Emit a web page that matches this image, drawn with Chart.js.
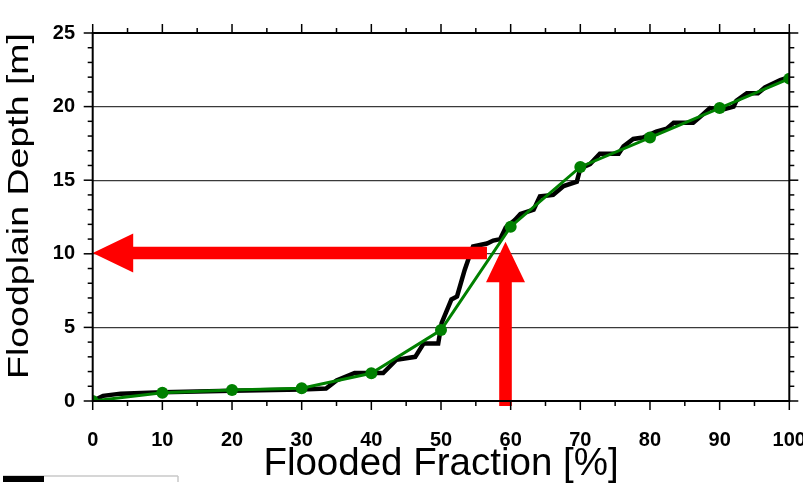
<!DOCTYPE html>
<html>
<head>
<meta charset="utf-8">
<script src="https://cdn.jsdelivr.net/npm/chart.js@4.4.1/dist/chart.umd.min.js"></script>
<style>
  html, body { margin: 0; padding: 0; background: #fff; }
</style>
</head>
<body>
<canvas id="myChart" width="803" height="495"></canvas>
<script>
// Fitted curve (green), sampled every 10 %
var fitFraction = [0, 10, 20, 30, 40, 50, 60, 70, 80, 90, 100];
var fitDepth    = [0, 0.56, 0.75, 0.86, 1.88, 4.82, 11.84, 15.9, 17.9, 19.9, 21.9];

// Raw hypsometric curve (black, stepped)
var rawFraction = [0, 1.5, 4, 10, 20, 30, 33.5, 35, 37.6, 41.7, 43.6, 46.3, 47.5, 49.6, 50.1, 51.5, 52.3, 53.4,
                   54.2, 54.6, 56.6, 57.5, 58.5, 59.3, 60.6, 61.4, 63.3, 64.2, 66.1, 67.6, 69.5, 70, 71.4, 72.8,
                   75.5, 76.2, 77.6, 79, 80.9, 82.4, 83.4, 86.2, 87.2, 88.6, 90.5, 92, 92.4, 93.9, 95.5, 96.5, 98.7, 100];
var rawDepth    = [0, 0.35, 0.5, 0.6, 0.7, 0.78, 0.85, 1.4, 1.9, 1.9, 2.8, 3.0, 3.9, 3.9, 5.3, 6.9, 7.1, 8.9,
                   10.0, 10.5, 10.7, 10.9, 11.0, 11.8, 12.3, 12.7, 13.0, 13.9, 14.0, 14.6, 14.9, 15.8, 16.1, 16.8,
                   16.8, 17.3, 17.8, 17.9, 18.3, 18.5, 18.9, 18.9, 19.3, 19.9, 19.8, 20.0, 20.4, 20.9, 20.9, 21.3, 21.8, 22.0];

// Tick values
var xTicks = [0, 10, 20, 30, 40, 50, 60, 70, 80, 90, 100];
var yTicks = [0, 5, 10, 15, 20, 25];
var xMinor = 5;
var yMinor = 1;

// Red guide arrows [fraction, depth]: tail -> tip
var hArrowFrom = [56.6, 10.05];
var hArrowTo   = [0, 10.05];
var vArrowFrom = [59.26, -0.34];
var vArrowTo   = [59.26, 10.82];

function toPoints(xs, ys) {
    var pts = [];
    for (var i = 0; i < xs.length; i++) pts.push({ x: xs[i], y: ys[i] });
    return pts;
}

function drawArrow(chart, from, to) {
    var ctx = chart.ctx, sx = chart.scales.x, sy = chart.scales.y;
    var x0 = sx.getPixelForValue(from[0]), y0 = sy.getPixelForValue(from[1]);
    var x1 = sx.getPixelForValue(to[0]),   y1 = sy.getPixelForValue(to[1]);
    var len = Math.hypot(x1 - x0, y1 - y0);
    var ux = (x1 - x0) / len, uy = (y1 - y0) / len;
    var px = -uy, py = ux;
    var half = 6.3, headLen = 40.5, headHalf = 19.5;
    var bx = x1 - ux * headLen, by = y1 - uy * headLen;
    ctx.save();
    ctx.fillStyle = '#ff0000';
    ctx.beginPath();
    ctx.moveTo(x0 + px * half, y0 + py * half);
    ctx.lineTo(bx + px * half, by + py * half);
    ctx.lineTo(bx + px * headHalf, by + py * headHalf);
    ctx.lineTo(x1, y1);
    ctx.lineTo(bx - px * headHalf, by - py * headHalf);
    ctx.lineTo(bx - px * half, by - py * half);
    ctx.lineTo(x0 - px * half, y0 - py * half);
    ctx.closePath();
    ctx.fill();
    ctx.restore();
}

function seg(ctx, a, b, c, d) {
    ctx.beginPath(); ctx.moveTo(a, b); ctx.lineTo(c, d); ctx.stroke();
}

var framePlugin = {
    id: 'frame',
    // arrows go between the black and the green curve
    afterDatasetDraw: function(chart, args) {
        if (args.index !== 1) return;
        drawArrow(chart, hArrowFrom, hArrowTo);
        drawArrow(chart, vArrowFrom, vArrowTo);
    },
    afterDraw: function(chart) {
        var ctx = chart.ctx, a = chart.chartArea;
        var sx = chart.scales.x, sy = chart.scales.y;
        var v, p, len;
        ctx.save();
        ctx.strokeStyle = '#000';
        ctx.lineWidth = 1.5;
        // ticks on all four sides, major + minor
        for (v = sx.min; v <= sx.max; v += xMinor) {
            p = sx.getPixelForValue(v);
            len = xTicks.indexOf(v) >= 0 ? 9 : 5;
            seg(ctx, p, a.bottom, p, a.bottom + len);
            seg(ctx, p, a.top, p, a.top - len);
        }
        for (v = sy.min; v <= sy.max; v += yMinor) {
            p = sy.getPixelForValue(v);
            len = yTicks.indexOf(v) >= 0 ? 9 : 5;
            seg(ctx, a.left - len, p, a.left, p);
            seg(ctx, a.right, p, a.right + len, p);
        }
        ctx.lineWidth = 2;
        ctx.strokeRect(a.left, a.top, a.right - a.left, a.bottom - a.top);

        // y axis title, a bit condensed like the original
        ctx.fillStyle = '#000';
        ctx.font = '37.5px "Liberation Sans", Arial, sans-serif';
        ctx.textAlign = 'center';
        ctx.textBaseline = 'alphabetic';
        ctx.translate(28, (a.top + a.bottom) / 2 - 11);
        ctx.rotate(-Math.PI / 2);
        ctx.scale(1, 0.8);
        ctx.fillText('Floodplain Depth [m]', 0, 0);
        ctx.restore();

        // leftover strip of the neighbouring panel at the bottom left
        ctx.save();
        ctx.strokeStyle = '#c8c8c8';
        ctx.lineWidth = 1.5;
        seg(ctx, 3, 476, 178, 476);
        seg(ctx, 178, 476, 178, 482);
        ctx.fillStyle = '#000';
        ctx.fillRect(3, 476, 41, 6);
        ctx.restore();
    }
};

var ctx = document.getElementById('myChart').getContext('2d');
var myChart = new Chart(ctx, {
    type: 'line',
    data: {
        datasets: [{
            label: 'Fit',
            data: toPoints(fitFraction, fitDepth),
            borderColor: '#008000',
            backgroundColor: '#008000',
            borderWidth: 3,
            pointRadius: 6,
            pointBorderWidth: 0,
            tension: 0,
            clip: 0
        }, {
            label: 'Raw',
            data: toPoints(rawFraction, rawDepth),
            borderColor: '#000000',
            borderWidth: 4.5,
            pointRadius: 0,
            tension: 0,
            clip: 0
        }]
    },
    options: {
        responsive: false,
        animation: false,
        events: [],
        layout: {
            autoPadding: false,
            padding: { top: 33, right: 13.7, bottom: 0, left: 0 }
        },
        plugins: {
            legend: { display: false },
            tooltip: { enabled: false }
        },
        scales: {
            x: {
                type: 'linear',
                min: 0,
                max: 100,
                afterBuildTicks: function(s) { s.ticks = xTicks.map(function(v) { return { value: v }; }); },
                afterFit: function(s) { s.height = 94; s.paddingLeft = 0; s.paddingRight = 0; },
                grid: { display: false },
                border: { display: false },
                ticks: {
                    padding: 19,
                    color: '#000',
                    maxRotation: 0,
                    autoSkip: false,
                    font: { family: '"Liberation Sans", Arial, sans-serif', size: 20, weight: 'bold' }
                },
                title: {
                    display: true,
                    text: 'Flooded Fraction [%]',
                    color: '#000',
                    padding: { top: 0, bottom: 11 },
                    font: { family: '"Liberation Sans", Arial, sans-serif', size: 38.5, lineHeight: 1 }
                }
            },
            y: {
                type: 'linear',
                min: 0,
                max: 25,
                afterBuildTicks: function(s) { s.ticks = yTicks.map(function(v) { return { value: v }; }); },
                afterFit: function(s) { s.width = 92.7; s.paddingTop = 0; s.paddingBottom = 0; },
                grid: { color: '#3a3a3a', lineWidth: 1.2, drawTicks: false },
                border: { display: false },
                ticks: {
                    padding: 17.7,
                    color: '#000',
                    font: { family: '"Liberation Sans", Arial, sans-serif', size: 20, weight: 'bold' }
                }
            }
        }
    },
    plugins: [framePlugin]
});
</script>
</body>
</html>
